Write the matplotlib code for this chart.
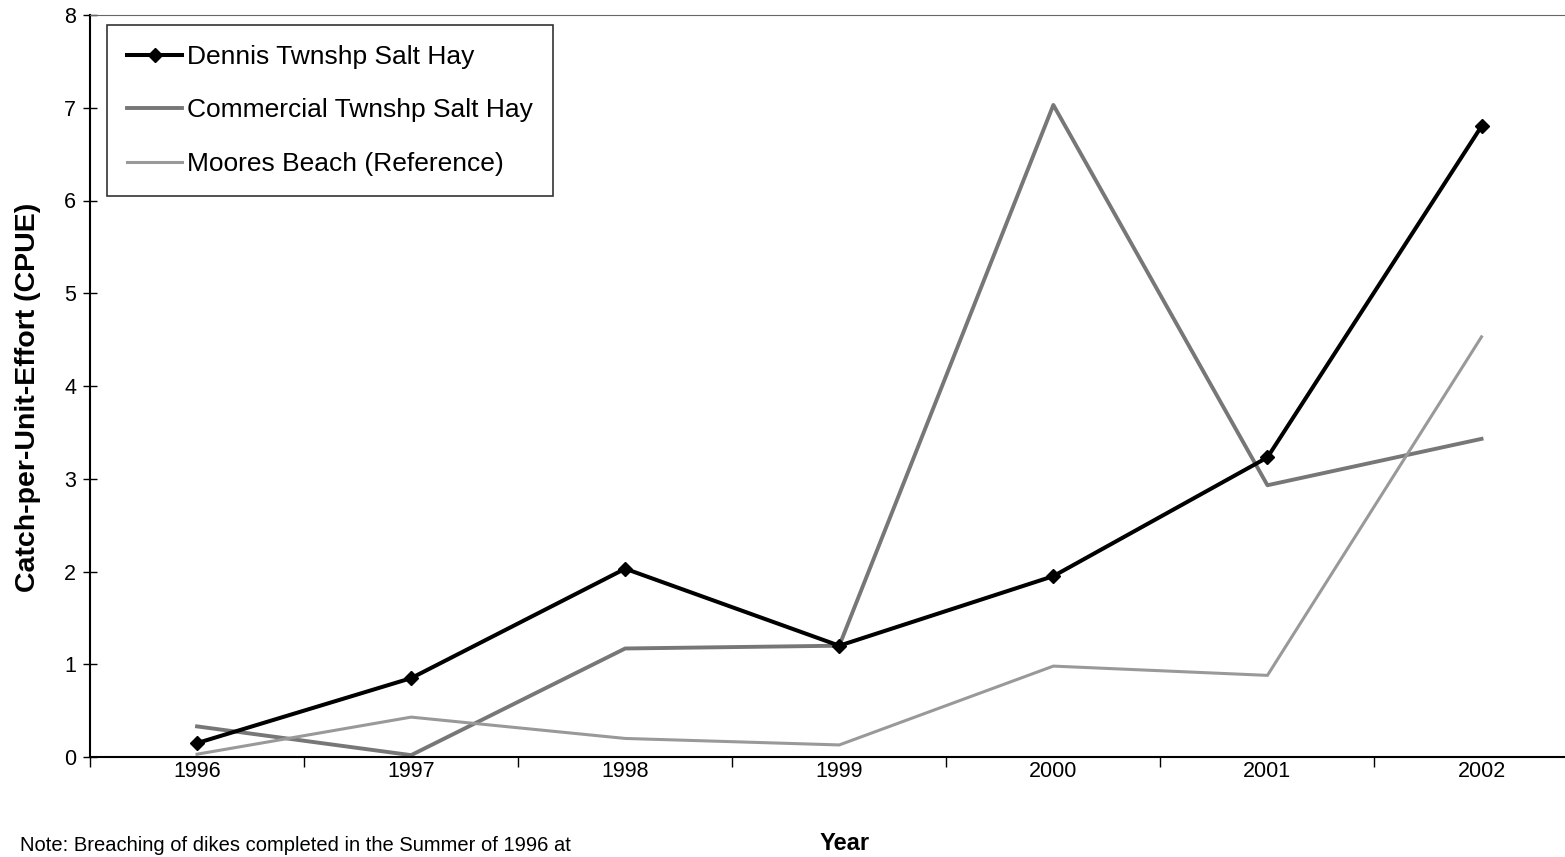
import numpy as np
import matplotlib.pyplot as plt

plt.rcParams['font.family'] = ['Liberation Sans', 'DejaVu Sans']

years = ['1996', '1997', '1998', '1999', '2000', '2001', '2002']
dennis = [0.15, 0.85, 2.03, 1.20, 1.95, 3.23, 6.80]
commercial = [0.33, 0.02, 1.17, 1.20, 7.03, 2.93, 3.43]
moores = [0.03, 0.43, 0.20, 0.13, 0.98, 0.88, 4.53]

fig = plt.figure(figsize=(15.65, 8.57), dpi=100)
ax = fig.add_axes([90 / 1565, 1 - 757 / 857, 1 - 90 / 1565, (757 - 15) / 857])

x = np.arange(len(years))
ax.plot(x, commercial, color='#777777', lw=2.8, label='Commercial Twnshp Salt Hay', zorder=2)
ax.plot(x, moores, color='#999999', lw=2.2, label='Moores Beach (Reference)', zorder=2)
ax.plot(x, dennis, color='black', lw=2.9, marker='D', ms=7, label='Dennis Twnshp Salt Hay', zorder=3)

ax.set_xlim(-0.5, 6.39)
ax.set_ylim(0, 8)

# category labels centred, ticks on the boundaries between years
ax.set_xticks(x)
ax.set_xticklabels(years)
ax.set_xticks(np.arange(-0.5, 6.5, 1), minor=True)
ax.tick_params(axis='x', which='major', length=0, pad=3, labelsize=15.5)
ax.tick_params(axis='x', which='minor', length=7, width=1, direction='out')
ax.set_yticks(range(0, 9))
ax.tick_params(axis='y', length=10, width=1, direction='inout', labelsize=15.5, pad=5)

for side in ['left', 'bottom']:
    ax.spines[side].set_linewidth(1.5)
ax.spines['top'].set_color('#666666')
ax.spines['top'].set_linestyle((0, (2, 1)))
ax.spines['right'].set_visible(False)

fig.text(28 / 1565, 1 - 397 / 857, 'Catch-per-Unit-Effort (CPUE)', fontsize=20.5,
         fontweight='bold', rotation=90, ha='center', va='center')
fig.text(845 / 1565, 1 - 843 / 857, 'Year', fontsize=17, fontweight='bold', ha='center', va='center')
fig.text(20 / 1565, 2 / 857, 'Note: Breaching of dikes completed in the Summer of 1996 at',
         fontsize=14.5, ha='left', va='bottom')

handles, labels = ax.get_legend_handles_labels()
order = [2, 0, 1]
leg = ax.legend([handles[i] for i in order], [labels[i] for i in order],
                loc='upper left', bbox_to_anchor=(17 / 1475, 1 - 10 / 742), fontsize=19,
                frameon=True, fancybox=False, edgecolor='black', handlelength=2.1,
                handletextpad=0.2, labelspacing=1.12, borderpad=0.75, borderaxespad=0)
leg.get_frame().set_linewidth(1.2)

fig.savefig('out.png', dpi=100)
